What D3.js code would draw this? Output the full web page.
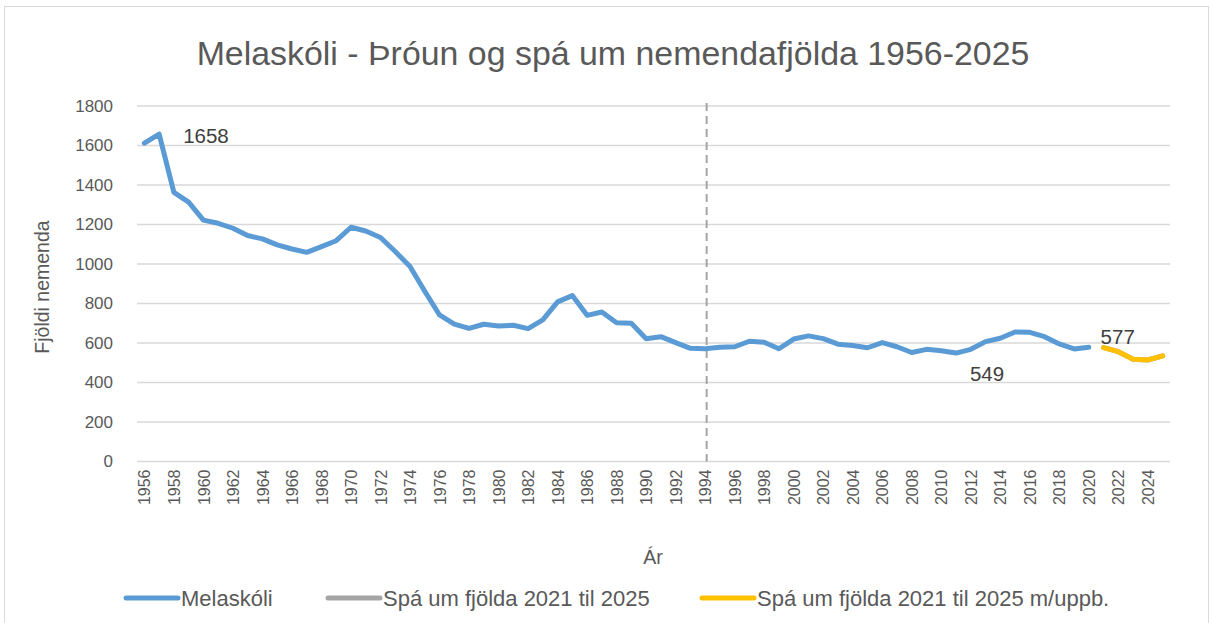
<!DOCTYPE html>
<html><head><meta charset="utf-8">
<script src="https://cdn.jsdelivr.net/npm/d3@7"></script>
<style>
body{margin:0;background:#fff;}
text{font-family:"Liberation Sans",Arial,sans-serif;}
</style></head>
<body><svg id="c" width="1215" height="623"></svg>
<script>
const years = d3.range(1956, 2026);
const melaskoliYears = d3.range(1956, 2021);
const melaskoliValues = [1612,1658,1363,1313,1222,1206,1181,1144,1127,1097,1076,1059,1088,1118,1186,1167,1134,1063,987,862,742,696,674,695,686,690,673,717,808,840,740,757,703,700,622,632,602,573,571,578,581,609,604,571,620,636,622,594,587,576,602,581,552,568,561,549,568,607,624,656,654,632,595,570,578];
const forecastYears = [2021,2022,2023,2024,2025];
const forecastValues = [577,556,518,514,535];
const forecastUppbValues = [577,556,518,514,535];
const yTicks = [0,200,400,600,800,1000,1200,1400,1600,1800];
const xTickYears = d3.range(1956, 2025, 2);
const title = "Melaskóli - Þróun og spá um nemendafjölda 1956-2025";
const seriesNames = ["Melaskóli","Spá um fjölda 2021 til 2025","Spá um fjölda 2021 til 2025 m/uppb."];
const colors = ["#5b9bd5","#a5a5a5","#ffc000"];
const markerYear = 1994;

const svg = d3.select("#c");
svg.append("rect").attr("x",4.5).attr("y",6.5).attr("width",1204).attr("height",640)
  .attr("fill","#fff").attr("stroke","#d9d9d9").attr("stroke-width",1);

const x = d3.scalePoint().domain(years).range([137,1170]).padding(0.5);
const y = d3.scaleLinear().domain([0,1800]).range([461.5,106]);

// gridlines
svg.append("g").selectAll("line").data(yTicks).join("line")
  .attr("x1",137).attr("x2",1170).attr("y1",d=>y(d)).attr("y2",d=>y(d))
  .attr("stroke","#d9d9d9").attr("stroke-width",1.3);

// y axis labels
const ya = svg.append("g").attr("transform","translate(137,0)")
  .call(d3.axisLeft(y).tickValues(yTicks).tickFormat(d3.format("d")).tickSize(0).tickPadding(24));
ya.select(".domain").remove();
ya.selectAll("text").attr("font-size",17).attr("fill","#595959").attr("font-family","Liberation Sans");

// x axis labels
const xa = svg.append("g").attr("transform","translate(0,461.5)")
  .call(d3.axisBottom(x).tickValues(xTickYears).tickSize(0));
xa.select(".domain").remove();
xa.selectAll("text").attr("font-size",16).attr("fill","#595959").attr("font-family","Liberation Sans")
  .attr("text-anchor","end").attr("dy","0.35em")
  .attr("transform","translate(0,8) rotate(-90)").attr("x",0).attr("y",0);

// dashed vertical
svg.append("line").attr("x1",x(markerYear)+1.5).attr("x2",x(markerYear)+1.5).attr("y1",103).attr("y2",461.5)
  .attr("stroke","#a5a5a5").attr("stroke-width",2).attr("stroke-dasharray","8,5");

const line = d3.line().x(d=>x(d[0])).y(d=>y(d[1]));
svg.append("path").datum(melaskoliYears.map((yr,i)=>[yr,melaskoliValues[i]]))
  .attr("d",line).attr("fill","none").attr("stroke",colors[0]).attr("stroke-width",5)
  .attr("stroke-linejoin","round").attr("stroke-linecap","round");
svg.append("path").datum(forecastYears.map((yr,i)=>[yr,forecastValues[i]]))
  .attr("d",line).attr("fill","none").attr("stroke",colors[1]).attr("stroke-width",5)
  .attr("stroke-linejoin","round").attr("stroke-linecap","round");
svg.append("path").datum(forecastYears.map((yr,i)=>[yr,forecastUppbValues[i]]))
  .attr("d",line).attr("fill","none").attr("stroke",colors[2]).attr("stroke-width",5)
  .attr("stroke-linejoin","round").attr("stroke-linecap","round");

// data labels
const lab = (yr,val,dx,dy,anchor)=>svg.append("text").attr("x",x(yr)+dx).attr("y",y(val)+dy)
  .attr("text-anchor",anchor).attr("font-size",20.5).attr("fill","#404040").text(val);
lab(1957,1658,24,9,"start");
lab(2011,549,31,28,"middle");
lab(2021,577,-3,-4,"start");

// title
const t = svg.append("text").attr("x",613).attr("y",65).attr("text-anchor","middle")
  .attr("font-size",30).attr("fill","#595959").text(title);
const tw = t.node().getComputedTextLength();
t.attr("font-size",30*833/tw);

// axis titles
svg.append("text").attr("transform","translate(49,287) rotate(-90)").attr("text-anchor","middle")
  .attr("font-size",19.5).attr("fill","#595959").text("Fjöldi nemenda");
svg.append("text").attr("x",653).attr("y",564).attr("text-anchor","middle")
  .attr("font-size",19.5).attr("fill","#595959").text("Ár");

// legend
const legX = [124,326,700];
seriesNames.forEach((n,i)=>{
  svg.append("line").attr("x1",legX[i]+2).attr("x2",legX[i]+54).attr("y1",598).attr("y2",598)
    .attr("stroke",colors[i]).attr("stroke-width",5).attr("stroke-linecap","round");
  svg.append("text").attr("x",legX[i]+57).attr("y",606).attr("font-size",22).attr("fill","#595959").text(n);
});
</script></body></html>
